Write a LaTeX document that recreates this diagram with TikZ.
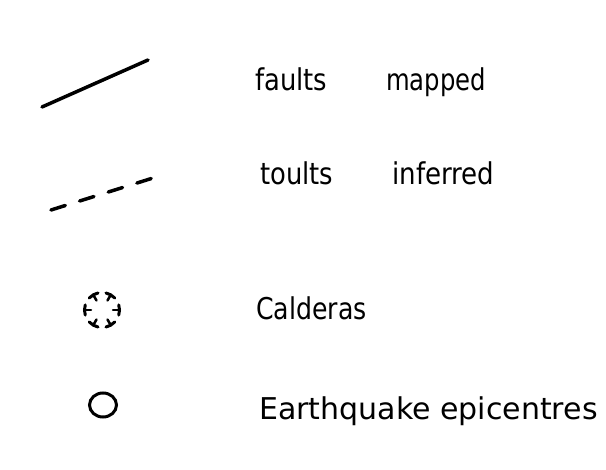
\documentclass[tikz,border=0pt]{standalone}
\usepackage{fontspec}
\setmainfont{DejaVu Sans}
\newcommand{\hw}[2]{\scalebox{#1}[1]{#2}}
\begin{document}
\begin{tikzpicture}[x=1pt,y=-1pt,
  lbl/.style={anchor=base west,inner sep=0pt,font=\fontsize{30}{34}\selectfont},
  ink/.style={line width=3.5pt,line cap=round,line join=round}]
\useasboundingbox (0,0) rectangle (606,470);
% faults mapped
\draw[ink] (42,107) -- (148,60);
\node[lbl] (fm1) at (255,91) {\hw{0.86}{faults}};
\node[lbl] (fm2) at (386,91) {\hw{0.81}{mapped}};
% faults inferred
\draw[ink,dash pattern=on 15pt off 15pt] (51,210) -- (153,178);
\node[lbl] (fi1) at (260,185) {\hw{0.86}{toults}};
\node[lbl] (fi2) at (392,185) {\hw{0.87}{inferred}};
% calderas
\foreach \a in {0,60,...,300}{
  \draw[line width=3pt,line cap=round] ([shift={(\a-17:17.5)}]102,310) arc[start angle=\a-17,end angle=\a+17,radius=17.5];
  \draw[line width=2.5pt,line cap=round] ([shift={(\a:17.5)}]102,310) -- ([shift={(\a:11)}]102,310);
}
\node[lbl] (cal) at (256,320) {\hw{0.84}{Calderas}};
% earthquake epicentres
\draw[line width=3pt] (103,405) ellipse[x radius=13.5,y radius=12];
\node[lbl] (eq) at (259,420) {\hw{1.0}{Earthquake epicentres}};
\end{tikzpicture}
\end{document}
